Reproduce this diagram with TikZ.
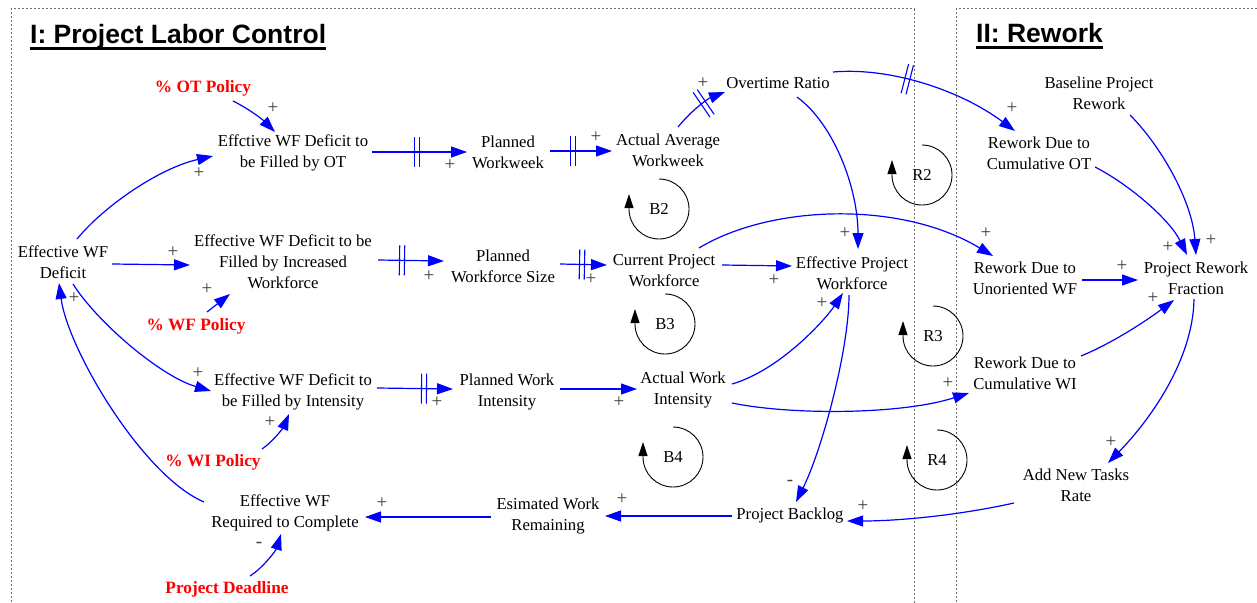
\documentclass[tikz,border=0pt]{standalone}
\usepackage{fontspec}
\setmainfont{Liberation Serif}
\newfontfamily\dgsans{Liberation Sans}
\usetikzlibrary{arrows.meta,decorations.markings}
\definecolor{lblue}{RGB}{0,0,255}
\definecolor{pred}{RGB}{255,0,0}
\definecolor{sgray}{RGB}{60,60,60}
\definecolor{bgray}{RGB}{110,110,110}
\newcommand\dgvar{\fontsize{16.7pt}{21pt}\selectfont}
\newcommand\dgpol{\fontsize{17.3pt}{21pt}\selectfont\bfseries}
\newcommand\dgsgn{\fontsize{19pt}{20pt}\selectfont}
\newcommand\dgtitle{\dgsans\fontsize{26.5pt}{30pt}\selectfont\bfseries}
\tikzset{
  var/.style={align=center, font=\dgvar, inner sep=1pt},
  pol/.style={font=\dgpol, text=pred, inner sep=1pt},
  sgn/.style={font=\dgsgn, text=sgray, inner sep=0pt},
  ttl/.style={font=\dgtitle, inner sep=0pt, anchor=base west},
  lnk/.style={draw=lblue, line width=1.2pt, -{Triangle[length=16pt,width=11pt]}},
  loopc/.style={draw=black, line width=0.9pt, -{Triangle[length=14pt,width=9pt]}},
  boxl/.style={draw=bgray, line width=1pt, dash pattern=on 2pt off 2pt},
  delaymark/.style={postaction={decorate,decoration={markings,
     mark=at position #1 with {\draw[draw=lblue,line width=1.1pt,-] (-2.5pt,-15pt) -- (-2.5pt,15pt) (2.5pt,-15pt) -- (2.5pt,15pt);}}}}
}
\begin{document}
\begin{tikzpicture}[x=1pt,y=-1pt]
\useasboundingbox (0,0) rectangle (1257,602);
% section boxes
\draw[boxl] (11,606) -- (11,9) -- (914,9) -- (914,606);
\draw[boxl] (956,606) -- (956,9) -- (1262,9);
% titles
\node[ttl] (t1) at (30,44) {I: Project Labor Control};
\draw[line width=2.8pt] ([yshift=-4.5pt]t1.base west) -- ([yshift=-4.5pt]t1.base east);
\node[ttl] (t2) at (976,43) {II: Rework};
\draw[line width=2.8pt] ([yshift=-4.5pt]t2.base west) -- ([yshift=-4.5pt]t2.base east);

% variables
\node[pol] (OTpol) at (203,88) {\% OT Policy};
\node[var] (effOT) at (293,153) {Effctive WF Deficit to\\be Filled by OT};
\node[var] (PWW) at (508,152) {Planned\\Workweek};
\node[var] (AAW) at (668,150) {Actual Average\\Workweek};
\node[var] (OTR) at (778,83) {Overtime Ratio};
\node[var] (EWFD) at (63,262) {Effective WF\\Deficit};
\node[var] (effWF) at (283,262) {Effective WF Deficit to be\\Filled by Increased\\Workforce};
\node[pol] (WFpol) at (196,326) {\% WF Policy};
\node[var] (PWS) at (503,266) {Planned\\Workforce Size};
\node[var] (CPW) at (664,271) {Current Project\\Workforce};
\node[var] (EPW) at (852,273) {Effective Project\\Workforce};
\node[var] (effWI) at (293,392) {Effective WF Deficit to\\be Filled by Intensity};
\node[var] (PWI) at (507,392) {Planned Work\\Intensity};
\node[var] (AWI) at (683,390) {Actual Work\\Intensity};
\node[pol] (WIpol) at (213,462) {\% WI Policy};
\node[var] (EWFR) at (285,513) {Effective WF\\Required to Complete};
\node[var] (EWR) at (548,516) {Esimated Work\\Remaining};
\node[var] (PB) at (790,516) {Project Backlog};
\node[pol] (PD) at (227,589) {Project Deadline};
\node[var] (BPR) at (1099,93) {Baseline Project\\Rework};
\node[var] (RCOT) at (1039,153) {Rework Due to\\Cumulative OT};
\node[var] (RUWF) at (1025,278) {Rework Due to\\Unoriented WF};
\node[var] (PRF) at (1196,278) {Project Rework\\Fraction};
\node[var] (RCWI) at (1025,373) {Rework Due to\\Cumulative WI};
\node[var] (ANT) at (1076,485) {Add New Tasks\\Rate};

% loop markers
\node[var] (B2) at (659,209) {B2};
\node[var] (B3) at (665,324) {B3};
\node[var] (B4) at (673,457) {B4};
\node[var] (R2) at (922,175) {R2};
\node[var] (R3) at (933,336) {R3};
\node[var] (R4) at (937,460) {R4};
\foreach \c in {B2,B3,B4,R2,R3,R4}{
  \draw[loopc] ([shift={(0pt,30pt)}]\c.center) arc[start angle=90,end angle=-180,radius=30pt] -- ++(0pt,15pt);
}

% connectors
\draw[lnk] ([shift={(30,13)}]OTpol.center) .. controls (249,109) and (262,119) .. ([shift={(-18,-21)}]effOT.center);
\draw[lnk] ([shift={(14,-23)}]EWFD.center) .. controls (105,205) and (160,168) .. ([shift={(-80,3)}]effOT.center);
\draw[lnk] ([shift={(49,2)}]EWFD.center) -- ([shift={(-93,3)}]effWF.center);
\draw[lnk] ([shift={(11,-14)}]WFpol.center) -- ([shift={(-53,32)}]effWF.center);
\draw[lnk] ([shift={(10,22)}]EWFD.center) .. controls (97,322) and (160,376) .. ([shift={(-82,-1)}]effWI.center);
\draw[lnk] ([shift={(49,-13)}]WIpol.center) .. controls (275,440) and (284,426) .. ([shift={(-4,22)}]effWI.center);
\draw[lnk] ([shift={(-81,-11)}]EWFR.center) .. controls (143,476) and (68,350) .. ([shift={(-4,21)}]EWFD.center);
\draw[lnk] ([shift={(23,-13)}]PD.center) .. controls (264,567) and (276,550) .. ([shift={(-4,21)}]EWFR.center);
\draw[lnk] ([shift={(-57,1)}]EWR.center) -- ([shift={(80,4)}]EWFR.center);
\draw[lnk] ([shift={(-58,0)}]PB.center) -- ([shift={(57,0)}]EWR.center);
\draw[lnk] ([shift={(-62,18)}]ANT.center) .. controls (960,515) and (900,521) .. ([shift={(57,5)}]PB.center);
\draw[lnk] ([shift={(-3,22)}]EPW.center) .. controls (849,350) and (822,450) .. ([shift={(6,-14)}]PB.center);
\draw[lnk,delaymark=45pt] ([shift={(79,-1)}]effOT.center) -- ([shift={(-41,0)}]PWW.center);
\draw[lnk,delaymark=23pt] ([shift={(42,-1)}]PWW.center) -- ([shift={(-56,1)}]AAW.center);
\draw[lnk,delaymark=35pt] ([shift={(10,-23)}]AAW.center) .. controls (690,112) and (707,99) .. ([shift={(-53,9)}]OTR.center);
\draw[lnk,delaymark=75pt] ([shift={(55,-11)}]OTR.center) .. controls (890,67) and (960,90) .. ([shift={(-24,-22)}]RCOT.center);
\draw[lnk] ([shift={(19,14)}]OTR.center) .. controls (835,125) and (858,190) .. ([shift={(6,-24)}]EPW.center);
\draw[lnk] ([shift={(58,-6)}]CPW.center) -- ([shift={(-60,-7)}]EPW.center);
\draw[lnk] ([shift={(35,-23)}]CPW.center) .. controls (770,205) and (900,200) .. ([shift={(-32,-22)}]RUWF.center);
\draw[lnk] ([shift={(49,-6)}]AWI.center) .. controls (780,370) and (825,320) .. ([shift={(-9,20)}]EPW.center);
\draw[lnk] ([shift={(49,13)}]AWI.center) .. controls (790,415) and (900,415) .. ([shift={(-56,20)}]RCWI.center);
\draw[lnk,delaymark=22pt] ([shift={(57,-2)}]PWS.center) -- ([shift={(-57,-6)}]CPW.center);
\draw[lnk,delaymark=24pt] ([shift={(95,-2)}]effWF.center) -- ([shift={(-59,-5)}]PWS.center);
\draw[lnk,delaymark=47pt] ([shift={(84,-4)}]effWI.center) -- ([shift={(-54,-3)}]PWI.center);
\draw[lnk] ([shift={(53,-3)}]PWI.center) -- ([shift={(-46,-1)}]AWI.center);
\draw[lnk] ([shift={(31,22)}]BPR.center) .. controls (1160,145) and (1192,200) .. ([shift={(0,-23)}]PRF.center);
\draw[lnk] ([shift={(56,14)}]RCOT.center) .. controls (1130,185) and (1170,220) .. ([shift={(-9,-23)}]PRF.center);
\draw[lnk] ([shift={(57,2)}]RUWF.center) -- ([shift={(-58,2)}]PRF.center);
\draw[lnk] ([shift={(56,-17)}]RCWI.center) .. controls (1115,342) and (1150,318) .. ([shift={(-22,22)}]PRF.center);
\draw[lnk] ([shift={(-2,21)}]PRF.center) .. controls (1193,360) and (1150,420) .. ([shift={(32,-22)}]ANT.center);

% polarity signs
\node[sgn] (s1) at (273,108) {+};
\node[sgn] (s2) at (199,173) {+};
\node[sgn] (s3) at (173,252) {+};
\node[sgn] (s4) at (207,289) {+};
\node[sgn] (s5) at (198,373) {+};
\node[sgn] (s6) at (74,298) {+};
\node[sgn] (s7) at (270,422) {+};
\node[sgn] (s8) at (259,545) {-};
\node[sgn] (s9) at (382,503) {+};
\node[sgn] (s10) at (622,499) {+};
\node[sgn] (s11) at (863,506) {+};
\node[sgn] (s12) at (790,483) {-};
\node[sgn] (s13) at (450,165) {+};
\node[sgn] (s14) at (596,137) {+};
\node[sgn] (s15) at (703,83) {+};
\node[sgn] (s16) at (1012,108) {+};
\node[sgn] (s17) at (845,233) {+};
\node[sgn] (s18) at (774,280) {+};
\node[sgn] (s19) at (986,233) {+};
\node[sgn] (s20) at (822,303) {+};
\node[sgn] (s21) at (948,383) {+};
\node[sgn] (s22) at (591,279) {+};
\node[sgn] (s23) at (429,276) {+};
\node[sgn] (s24) at (437,402) {+};
\node[sgn] (s25) at (619,402) {+};
\node[sgn] (s26) at (1211,240) {+};
\node[sgn] (s27) at (1168,247) {+};
\node[sgn] (s28) at (1122,266) {+};
\node[sgn] (s29) at (1153,298) {+};
\node[sgn] (s30) at (1111,442) {+};
\end{tikzpicture}
\end{document}
